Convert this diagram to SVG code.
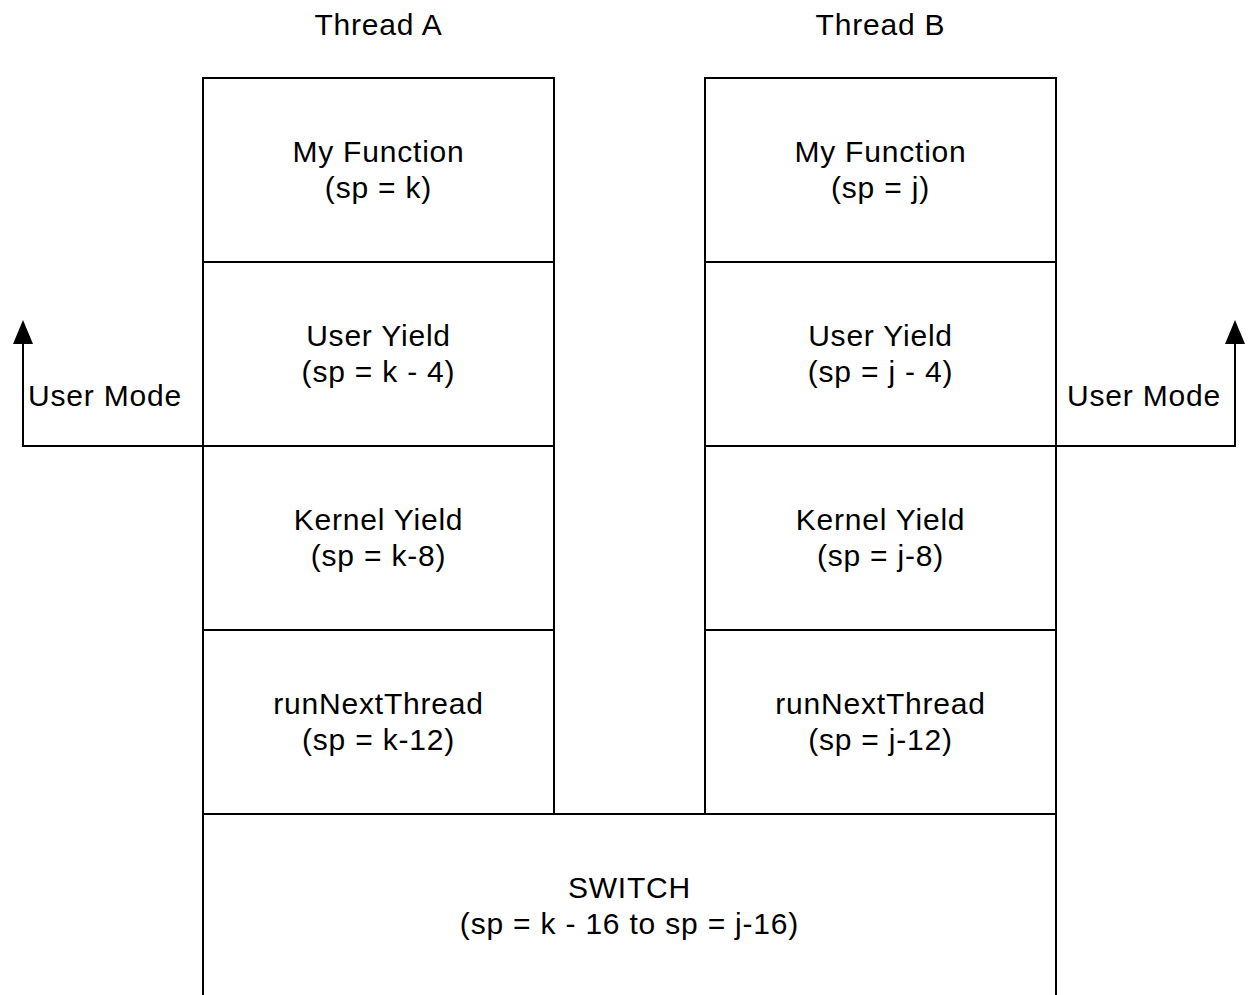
<svg xmlns="http://www.w3.org/2000/svg" width="1251" height="995" viewBox="0 0 1251 995">
<style>
  .box { fill: #ffffff; stroke: #000000; stroke-width: 2; }
  .t { font-family: "Liberation Sans", Arial, Helvetica, sans-serif; font-size: 30px; fill: #000000; letter-spacing: 0.8px; }
  .c { text-anchor: middle; }
  .conn { fill: none; stroke: #000000; stroke-width: 2; }
</style>
<defs>
  <marker id="arrow" viewBox="0 0 24 20" refX="1" refY="10" markerWidth="24" markerHeight="20" markerUnits="userSpaceOnUse" orient="auto">
    <path d="M0,0 L24,10 L0,20 Z" fill="#000000"/>
  </marker>
</defs>
<rect x="0" y="0" width="1251" height="995" fill="#ffffff"/>

<g id="titles">
  <text class="t c" x="378.5" y="35">Thread A</text>
  <text class="t c" x="880.5" y="35">Thread B</text>
</g>

<g id="a-myfunction">
  <rect class="box" x="203" y="78" width="351" height="184"/>
  <text class="t c" x="378.5" y="162">My Function</text>
  <text class="t c" x="378.5" y="198">(sp = k)</text>
</g>
<g id="a-useryield">
  <rect class="box" x="203" y="262" width="351" height="184"/>
  <text class="t c" x="378.5" y="346">User Yield</text>
  <text class="t c" x="378.5" y="382">(sp = k - 4)</text>
</g>
<g id="a-kernelyield">
  <rect class="box" x="203" y="446" width="351" height="184"/>
  <text class="t c" x="378.5" y="530">Kernel Yield</text>
  <text class="t c" x="378.5" y="566">(sp = k-8)</text>
</g>
<g id="a-runnext">
  <rect class="box" x="203" y="630" width="351" height="184"/>
  <text class="t c" x="378.5" y="714">runNextThread</text>
  <text class="t c" x="378.5" y="750">(sp = k-12)</text>
</g>

<g id="b-myfunction">
  <rect class="box" x="705" y="78" width="351" height="184"/>
  <text class="t c" x="880.5" y="162">My Function</text>
  <text class="t c" x="880.5" y="198">(sp = j)</text>
</g>
<g id="b-useryield">
  <rect class="box" x="705" y="262" width="351" height="184"/>
  <text class="t c" x="880.5" y="346">User Yield</text>
  <text class="t c" x="880.5" y="382">(sp = j - 4)</text>
</g>
<g id="b-kernelyield">
  <rect class="box" x="705" y="446" width="351" height="184"/>
  <text class="t c" x="880.5" y="530">Kernel Yield</text>
  <text class="t c" x="880.5" y="566">(sp = j-8)</text>
</g>
<g id="b-runnext">
  <rect class="box" x="705" y="630" width="351" height="184"/>
  <text class="t c" x="880.5" y="714">runNextThread</text>
  <text class="t c" x="880.5" y="750">(sp = j-12)</text>
</g>

<g id="switch">
  <rect class="box" x="203" y="814" width="853" height="186"/>
  <text class="t c" x="629.5" y="898">SWITCH</text>
  <text class="t c" x="629.5" y="934">(sp = k - 16 to sp = j-16)</text>
</g>

<g id="connectors">
  <path class="conn" d="M203,446 L23,446 L23,343" marker-end="url(#arrow)"/>
  <text class="t" x="28" y="406">User Mode</text>
  <path class="conn" d="M1056,446 L1235,446 L1235,343" marker-end="url(#arrow)"/>
  <text class="t" x="1067" y="406">User Mode</text>
</g>
</svg>
